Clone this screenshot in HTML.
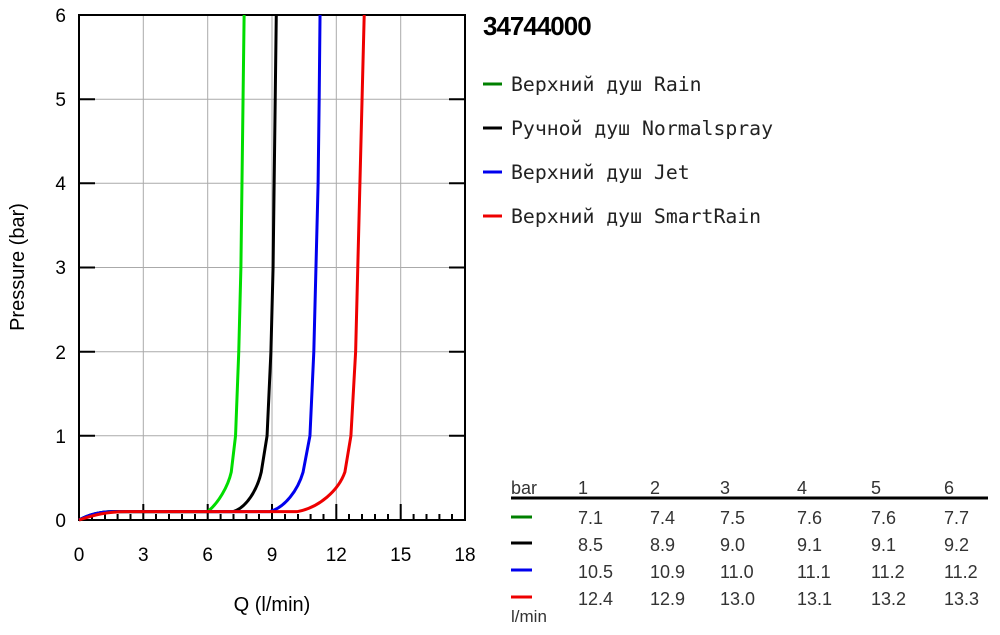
<!DOCTYPE html>
<html><head><meta charset="utf-8"><style>
body{margin:0;background:#fff;width:1000px;height:635px;overflow:hidden}
svg{display:block}
</style></head><body>
<svg width="1000" height="635" xmlns="http://www.w3.org/2000/svg" font-family="Liberation Sans, Arial, sans-serif">
<rect width="1000" height="635" fill="#fff"/>
<g stroke="#aaa" stroke-width="1">
<line x1="143.3" y1="15" x2="143.3" y2="520"/><line x1="207.7" y1="15" x2="207.7" y2="520"/>
<line x1="272" y1="15" x2="272" y2="520"/><line x1="336.3" y1="15" x2="336.3" y2="520"/>
<line x1="400.7" y1="15" x2="400.7" y2="520"/>
<line x1="79" y1="435.8" x2="465" y2="435.8"/><line x1="79" y1="351.7" x2="465" y2="351.7"/>
<line x1="79" y1="267.5" x2="465" y2="267.5"/><line x1="79" y1="183.3" x2="465" y2="183.3"/>
<line x1="79" y1="99.2" x2="465" y2="99.2"/>
</g>
<g stroke="#000" stroke-width="2">
<path d="M92 520v-6M105 520v-6M117.6 520v-6M130.5 520v-6M156 520v-6M169 520v-6M182 520v-6M195 520v-6M220.6 520v-6M233.5 520v-6M246.4 520v-6M259 520v-6M285 520v-6M298 520v-6M310.6 520v-6M323.5 520v-6M349 520v-6M362 520v-6M375 520v-6M388 520v-6M413.6 520v-6M426.5 520v-6M439.4 520v-6M452 520v-6"/>
<path d="M143.3 520v-16M207.7 520v-16M272 520v-16M336.3 520v-16M400.7 520v-16"/>
<path d="M79 435.8h16M79 351.7h16M79 267.5h16M79 183.3h16M79 99.2h16M465 435.8h-16M465 351.7h-16M465 267.5h-16M465 183.3h-16M465 99.2h-16"/>
<rect x="79" y="15" width="386" height="505" fill="none"/>
</g>
<g transform="translate(79,520) scale(21.444,-84.17)" fill="none" stroke-width="3" stroke-linejoin="round">
<path vector-effect="non-scaling-stroke" stroke="#00dd00" d="M0,0 C0.5,0.07 1,0.1 1.6,0.1 L6.0,0.1 C6.5,0.2 6.95,0.4 7.1,0.57 L7.3,1 L7.45,2 L7.55,3 L7.6,4 L7.65,5 L7.7,6"/>
<path vector-effect="non-scaling-stroke" stroke="#000" d="M0,0 C0.5,0.07 1,0.1 1.6,0.1 L7.2,0.1 C7.8,0.15 8.3,0.35 8.5,0.57 L8.77,1 L8.95,2 L9.05,3 L9.1,4 L9.15,5 L9.2,6"/>
<path vector-effect="non-scaling-stroke" stroke="#0000ee" d="M0,0 C0.5,0.07 1,0.1 1.7,0.1 L8.9,0.1 C9.6,0.15 10.2,0.35 10.45,0.57 L10.77,1 L10.95,2 L11.05,3 L11.15,4 L11.2,5 L11.24,6"/>
<path vector-effect="non-scaling-stroke" stroke="#ee0000" d="M0,0 C0.7,0.06 1.3,0.1 2.2,0.1 L10.2,0.1 C11.2,0.15 12.1,0.35 12.4,0.57 L12.68,1 L12.9,2 L13.0,3 L13.1,4 L13.2,5 L13.3,6"/>
</g>
<g font-size="19" fill="#000">
<g text-anchor="end"><text x="66" y="527">0</text><text x="66" y="443">1</text><text x="66" y="359">2</text><text x="66" y="274">3</text><text x="66" y="190">4</text><text x="66" y="106">5</text><text x="66" y="22">6</text></g>
<g text-anchor="middle"><text x="79" y="561">0</text><text x="143.3" y="561">3</text><text x="207.7" y="561">6</text><text x="272" y="561">9</text><text x="336.3" y="561">12</text><text x="400.7" y="561">15</text><text x="465" y="561">18</text>
<text x="272" y="611" font-size="20">Q (l/min)</text>
<text transform="translate(24,267) rotate(-90)" font-size="20">Pressure (bar)</text></g>
</g>
<text x="483" y="35" font-size="26" font-weight="bold" letter-spacing="-1">34744000</text>
<g stroke-width="3"><line x1="483" y1="84" x2="502" y2="84" stroke="#008000"/><line x1="483" y1="128" x2="502" y2="128" stroke="#000"/><line x1="483" y1="172" x2="502" y2="172" stroke="#0000ee"/><line x1="483" y1="216" x2="502" y2="216" stroke="#ee0000"/></g>
<g font-family="DejaVu Sans Mono, Liberation Mono, monospace" font-size="19.8" fill="#222">
<text x="511" y="91">Верхний душ Rain</text><text x="511" y="135">Ручной душ Normalspray</text><text x="511" y="179">Верхний душ Jet</text><text x="511" y="223">Верхний душ SmartRain</text>
</g>
<line x1="511" y1="498" x2="988" y2="498" stroke="#000" stroke-width="3"/>
<g stroke-width="3"><line x1="511" y1="517" x2="532" y2="517" stroke="#008000"/><line x1="511" y1="543" x2="532" y2="543" stroke="#000"/><line x1="511" y1="570" x2="532" y2="570" stroke="#0000ee"/><line x1="511" y1="597" x2="532" y2="597" stroke="#ee0000"/></g>
<g font-size="18" fill="#333">
<text x="511" y="494">bar</text><text x="578" y="494">1</text><text x="650" y="494">2</text><text x="720" y="494">3</text><text x="797" y="494">4</text><text x="871" y="494">5</text><text x="944" y="494">6</text>
<text x="578" y="524">7.1</text><text x="650" y="524">7.4</text><text x="720" y="524">7.5</text><text x="797" y="524">7.6</text><text x="871" y="524">7.6</text><text x="944" y="524">7.7</text>
<text x="578" y="551">8.5</text><text x="650" y="551">8.9</text><text x="720" y="551">9.0</text><text x="797" y="551">9.1</text><text x="871" y="551">9.1</text><text x="944" y="551">9.2</text>
<text x="578" y="578">10.5</text><text x="650" y="578">10.9</text><text x="720" y="578">11.0</text><text x="797" y="578">11.1</text><text x="871" y="578">11.2</text><text x="944" y="578">11.2</text>
<text x="578" y="605">12.4</text><text x="650" y="605">12.9</text><text x="720" y="605">13.0</text><text x="797" y="605">13.1</text><text x="871" y="605">13.2</text><text x="944" y="605">13.3</text>
<text x="511" y="622" font-size="17">l/min</text>
</g>
</svg>
</body></html>
